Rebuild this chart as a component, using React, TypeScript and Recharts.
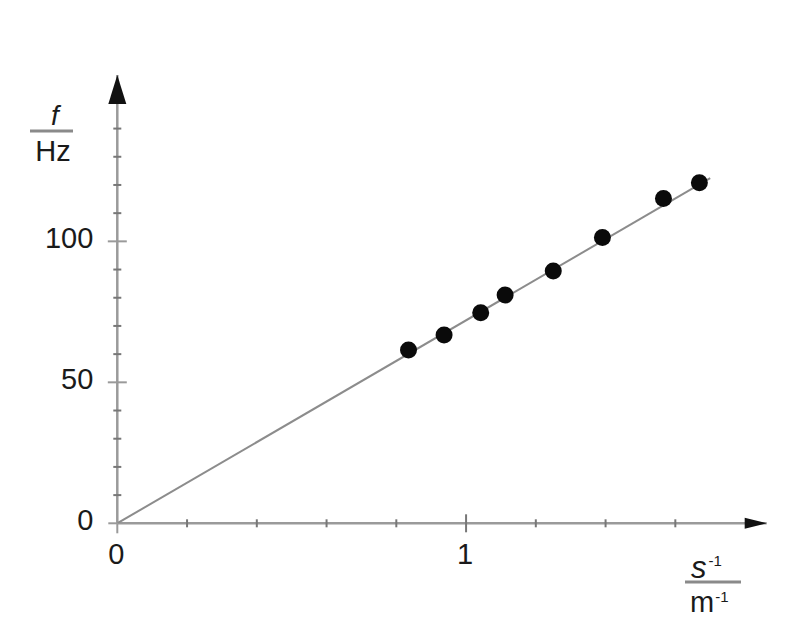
import { ComposedChart, Scatter, XAxis, YAxis, ReferenceDot } from "recharts"

// measured points (1/s in m^-1, frequency f in Hz)
const invS = [0.835, 0.937, 1.042, 1.112, 1.25, 1.391, 1.566, 1.669]
const freq = [61.5, 66.8, 74.7, 81.0, 89.5, 101.4, 115.2, 120.8]

// straight line through the origin, as drawn
const fitInvS = [0, 1.7]
const fitFreq = [0, 122.4]

const xTicks = [0, 0.2, 0.4, 0.6, 0.8, 1, 1.2, 1.4, 1.6]
const xLabelled = [0, 1]
const yTicks = [0, 10, 20, 30, 40, 50, 60, 70, 80, 90, 100, 110, 120, 130, 140]
const yLabelled = [0, 50, 100]

const X_MAX = 1.862
const Y_MAX = 159

const points = invS.map((x, i) => ({ x, f: freq[i] }))
const fit = fitInvS.map((x, i) => ({ x, f: fitFreq[i] }))

const AXIS = "#9a9a9a"
const FONT = "'Liberation Sans', Arial, sans-serif"

function YTick(props: any) {
  const { x, y, payload } = props
  const major = yLabelled.includes(payload.value)
  const half = major ? 9.5 : 4
  return (
    <g>
      {payload.value !== 0 && (
        <line x1={x - half} x2={x + half} y1={y} y2={y} stroke={major ? AXIS : "#777"} strokeWidth={2} />
      )}
      {payload.value === 0 && <line x1={x - 9} x2={x} y1={y} y2={y} stroke={AXIS} strokeWidth={2} />}
      {major && (
        <text x={x - 24} y={y + 7} textAnchor="end" fontSize={29} fontFamily={FONT} fill="#1a1a1a">
          {payload.value}
        </text>
      )}
    </g>
  )
}

function XTick(props: any) {
  const { x, y, payload } = props
  const major = xLabelled.includes(payload.value)
  const half = payload.value === 1 ? 9 : 4
  return (
    <g>
      {payload.value === 0 ? (
        <line x1={x} x2={x} y1={y} y2={y + 10} stroke={AXIS} strokeWidth={2} />
      ) : (
        <line x1={x} x2={x} y1={y - half} y2={y + half} stroke="#777" strokeWidth={2} />
      )}
      {major && (
        <text x={x - 1} y={y + 41} textAnchor="middle" fontSize={29} fontFamily={FONT} fill="#1a1a1a">
          {payload.value}
        </text>
      )}
    </g>
  )
}

const UpArrow = (p: any) => (
  <polygon points={`${p.cx},${p.cy} ${p.cx - 9},${p.cy + 29} ${p.cx + 9},${p.cy + 29}`} fill="#111" />
)
const RightArrow = (p: any) => (
  <polygon points={`${p.cx},${p.cy} ${p.cx - 22},${p.cy - 5.5} ${p.cx - 22},${p.cy + 5.5}`} fill="#111" />
)

const Dot = (p: any) => <circle cx={p.cx} cy={p.cy} r={8.5} fill="#0a0a0a" />
const NoDot = () => null

export default function App() {
  return (
    <div style={{ position: "absolute", left: 0, top: 0, width: 800, height: 636, background: "#fff" }}>
      <ComposedChart
        width={800}
        height={636}
        margin={{ top: 75, right: 33.3, bottom: 72.7, left: 57.3 }}
      >
        <XAxis
          type="number"
          dataKey="x"
          domain={[0, X_MAX]}
          allowDataOverflow
          ticks={xTicks}
          interval={0}
          tick={XTick}
          tickLine={false}
          tickSize={0}
          tickMargin={0}
          height={40}
          axisLine={{ stroke: AXIS, strokeWidth: 2.5 }}
        />
        <YAxis
          type="number"
          dataKey="f"
          domain={[0, Y_MAX]}
          allowDataOverflow
          ticks={yTicks}
          interval={0}
          tick={YTick}
          tickLine={false}
          tickSize={0}
          tickMargin={0}
          width={60}
          axisLine={{ stroke: AXIS, strokeWidth: 2.5 }}
        />
        <Scatter
          data={fit}
          dataKey="f"
          line={{ stroke: "#8c8c8c", strokeWidth: 2 }}
          lineType="joint"
          shape={NoDot}
          isAnimationActive={false}
        />
        <Scatter data={points} dataKey="f" shape={Dot} isAnimationActive={false} />
        <ReferenceDot x={0} y={Y_MAX} ifOverflow="visible" shape={UpArrow} />
        <ReferenceDot x={X_MAX} y={0} ifOverflow="visible" shape={RightArrow} />
      </ComposedChart>
      <svg
        width={800}
        height={636}
        style={{ position: "absolute", left: 0, top: 0, pointerEvents: "none" }}
        fontFamily={FONT}
      >
        <text x={55} y={125} textAnchor="middle" fontSize={28} fontStyle="italic" fill="#1a1a1a">
          f
        </text>
        <line x1={30} x2={73} y1={131} y2={131} stroke="#8a8a8a" strokeWidth={3} />
        <text x={53} y={161} textAnchor="middle" fontSize={29} fill="#1a1a1a">
          Hz
        </text>

        <text x={691} y={578} fontSize={31} fontStyle="italic" fill="#1a1a1a">
          s
          <tspan fontSize={15} fontStyle="normal" dx={2} dy={-12}>
            -1
          </tspan>
        </text>
        <line x1={685} x2={741} y1={582} y2={582} stroke="#8a8a8a" strokeWidth={3} />
        <text x={690} y={612} fontSize={29} fill="#1a1a1a">
          m
          <tspan fontSize={15} dx={1} dy={-10}>
            -1
          </tspan>
        </text>
      </svg>
    </div>
  )
}
